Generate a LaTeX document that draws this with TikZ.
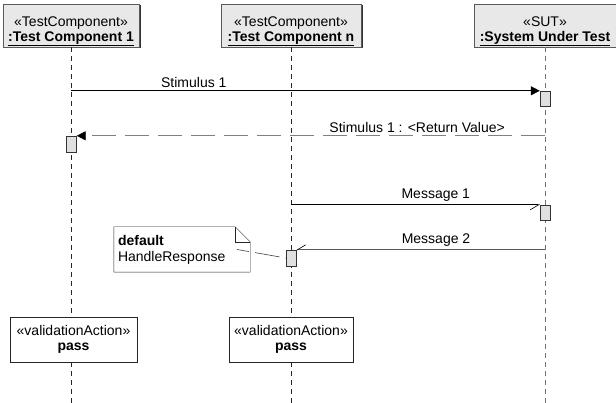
\documentclass[tikz,border=0pt]{standalone}
\usepackage{fontspec}
\setmainfont{Liberation Sans}
\usetikzlibrary{arrows.meta,shadows}

\begin{document}
\begin{tikzpicture}[x=1pt, y=-1pt,
    every node/.style={font=\fontsize{14}{15}\selectfont},
    head/.style={draw=black!65, fill=black!9, minimum height=43pt, inner sep=1pt, align=center,
        drop shadow={shadow xshift=1.5pt, shadow yshift=-1.5pt, fill=black!80, opacity=1}},
    lifeline/.style={black!85, dash pattern=on 5pt off 4pt},
    act/.style={draw=black!80, fill=black!12, minimum width=10pt, minimum height=15pt, inner sep=0pt},
    msg/.style={black, line width=0.6pt},
    reply/.style={black!50, line width=0.6pt, dash pattern=on 24pt off 9pt},
    actionbox/.style={draw=black!85, fill=white, minimum height=45pt, inner sep=1pt, align=center},
    notebox/.style={minimum width=136pt, minimum height=45pt, text width=128pt, inner sep=4pt, align=left,
        font=\fontsize{14}{16}\selectfont}
]
\useasboundingbox (0,0) rectangle (616,403);

% lifeline heads
\node[head, minimum width=136pt] (tc1) at (71,25.5)
    {\rule{0pt}{21pt}«TestComponent»\\\underline{\textbf{:Test Component 1}}};
\node[head, minimum width=140pt] (tc2) at (291,25.5)
    {\rule{0pt}{21pt}«TestComponent»\\\underline{\textbf{:Test Component n}}};
\node[head, minimum width=142pt] (sut) at (545,25.5)
    {\rule{0pt}{21pt}«SUT»\\\underline{\textbf{:System Under Test}}};

% lifelines
\draw[lifeline] (tc1.south) -- ++(0,356);
\draw[lifeline] (tc2.south) -- ++(0,356);
\draw[lifeline, black!55] (sut.south) -- ++(0,356);

% validation actions
\node[actionbox, minimum width=127pt] (pass1) at (73.5,339.5) {«validationAction»\\\textbf{pass}};
\node[actionbox, minimum width=124pt] (pass2) at (291,339.5) {«validationAction»\\\textbf{pass}};

% activations
\node[act] (sa) at (545,98.5) {};
\node[act, minimum height=16pt] (ra) at (71.5,144) {};
\node[act] (sb) at (545,212.5) {};
\node[act, minimum height=16pt] (na) at (291,258) {};

% messages
\draw[msg, -{Triangle[length=9pt,width=9pt]}] (sa.north west -| tc1) -- (sa.north west)
    node[above, pos=0.262, black] {Stimulus 1};
\draw[reply, -{Triangle[length=9pt,width=9pt,black]}] (ra.north east -| sut) -- (ra.north east)
    node[above, pos=0.273, black] {Stimulus 1 : <Return Value>};
\draw[msg, -{Straight Barb[right,length=8.5pt,width=10pt]}] (sb.north west -| tc2) -- (sb.north west)
    node[above, pos=0.582, black] {Message 1};
\draw[msg, black!65, -{Straight Barb[right,length=8.5pt,width=10pt,black]}] (na.north east -| sut) -- (na.north east)
    node[above, pos=0.438, black] {Message 2};

% note
\node[notebox] (note) at (182,249.5) {\textbf{default}\\HandleResponse};
\draw[black!85] (note.north west) -- ([xshift=-15pt]note.north east) -- ([yshift=-15pt]note.north east)
    -- (note.south east) -- (note.south west) -- cycle;
\draw[black!85] ([xshift=-15pt]note.north east) |- ([yshift=-15pt]note.north east);
\draw[black!75, line width=0.6pt, dash pattern=on 12pt off 6pt on 25pt off 6pt] ([xshift=-13pt]note.east) -- (na.west);
\end{tikzpicture}
\end{document}
